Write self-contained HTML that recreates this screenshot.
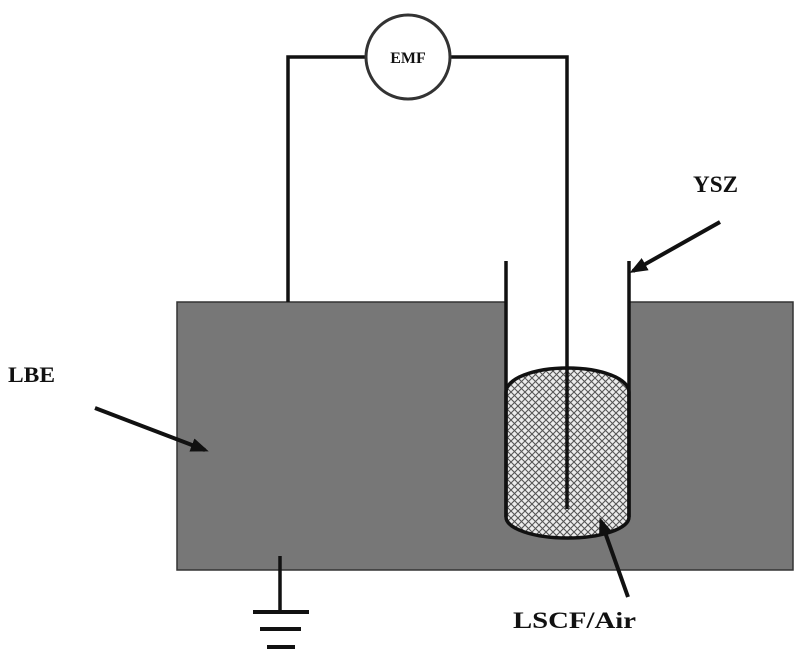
<!DOCTYPE html>
<html><head><meta charset="utf-8"><style>
html,body{margin:0;padding:0;background:#fff;}
svg{display:block;}
text{font-family:"Liberation Serif",serif;font-weight:bold;fill:#111;}
</style></head><body>
<svg width="803" height="656" viewBox="0 0 803 656" xmlns="http://www.w3.org/2000/svg">
<defs>
<pattern id="hatch" width="7" height="7" patternUnits="userSpaceOnUse">
<rect width="7" height="7" fill="#ececec"/>
<path d="M0,0 L7,7 M7,0 L0,7" stroke="#555" stroke-width="1.1"/>
</pattern>
<marker id="ah" markerWidth="18" markerHeight="14" refX="14" refY="7" orient="auto" markerUnits="userSpaceOnUse">
<path d="M0,0 L18,7 L0,14 z" fill="#111"/>
</marker>
</defs>
<rect x="177" y="302" width="616" height="268" fill="#777" stroke="#333" stroke-width="1.5"/>
<rect x="506" y="300" width="123" height="100" fill="#fff"/>
<path d="M506,392 A61.5,24 0 0 1 629,392 L629,517 A61.5,21 0 0 1 506,517 Z" fill="url(#hatch)" stroke="#111" stroke-width="3.5"/>
<line x1="506" y1="261" x2="506" y2="517" stroke="#111" stroke-width="3.5"/>
<line x1="629" y1="261" x2="629" y2="517" stroke="#111" stroke-width="3.5"/>
<polyline points="288,302 288,57 567,57 567,509" fill="none" stroke="#111" stroke-width="3.5"/>
<circle cx="408" cy="57" r="42" fill="#fff" stroke="#333" stroke-width="3"/>
<text x="408" y="63" font-size="16" text-anchor="middle" font-weight="normal">EMF</text>
<line x1="280" y1="556" x2="280" y2="612" stroke="#111" stroke-width="3.5"/>
<line x1="253" y1="612" x2="309" y2="612" stroke="#111" stroke-width="4"/>
<line x1="260" y1="629" x2="301" y2="629" stroke="#111" stroke-width="4"/>
<line x1="267" y1="647" x2="295" y2="647" stroke="#111" stroke-width="4"/>
<line x1="95" y1="408" x2="205" y2="450" stroke="#111" stroke-width="4" marker-end="url(#ah)"/>
<line x1="720" y1="222" x2="633" y2="271" stroke="#111" stroke-width="4" marker-end="url(#ah)"/>
<line x1="628" y1="597" x2="601" y2="521" stroke="#111" stroke-width="4" marker-end="url(#ah)"/>
<text x="8" y="382" font-size="22" textLength="47" lengthAdjust="spacingAndGlyphs">LBE</text>
<text x="693" y="192" font-size="23" font-weight="normal" textLength="45" lengthAdjust="spacingAndGlyphs">YSZ</text>
<text x="513" y="628" font-size="23" textLength="123" lengthAdjust="spacingAndGlyphs">LSCF/Air</text>
</svg>
</body></html>
